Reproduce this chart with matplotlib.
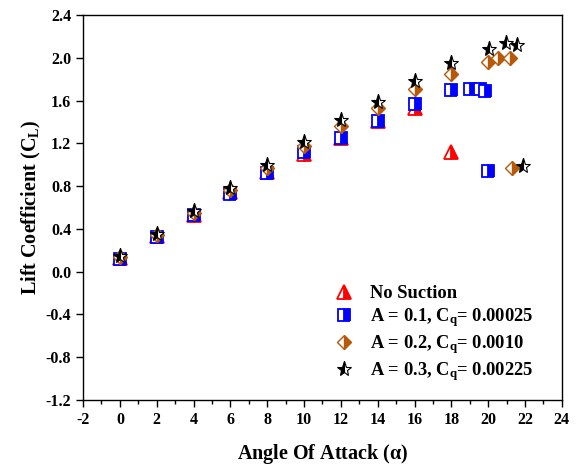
import matplotlib.pyplot as plt
import numpy as np

# Fuentes tipo Times en negrita
plt.rcParams['font.family'] = ['Liberation Serif', 'DejaVu Serif']
plt.rcParams['font.weight'] = 'bold'
plt.rcParams['axes.unicode_minus'] = False
plt.rcParams['mathtext.fontset'] = 'custom'
plt.rcParams['mathtext.rm'] = 'Liberation Serif:bold'
plt.rcParams['mathtext.it'] = 'Liberation Serif:bold'
plt.rcParams['mathtext.bf'] = 'Liberation Serif:bold'

# Datos
aoa_ns = [0, 2, 4, 6, 8, 10, 12, 14, 16, 18]
cl_ns = [0.13, 0.33, 0.53, 0.74, 0.93, 1.10, 1.25, 1.41, 1.53, 1.12]

aoa_a1 = [0, 2, 4, 6, 8, 10, 12, 14, 16, 18, 19, 19.55, 19.85, 20.0]
cl_a1 = [0.12, 0.32, 0.53, 0.73, 0.92, 1.12, 1.25, 1.41, 1.565, 1.70, 1.71, 1.71, 1.69, 0.94]

aoa_a2 = [0, 2, 4, 6, 8, 10, 12, 14, 16, 18, 20.0, 20.55, 21.2, 21.3]
cl_a2 = [0.14, 0.34, 0.55, 0.76, 0.97, 1.17, 1.36, 1.53, 1.705, 1.85, 1.96, 1.995, 2.0, 0.97]

aoa_a3 = [0, 2, 4, 6, 8, 10, 12, 14, 16, 18, 20.05, 20.95, 21.55, 21.9]
cl_a3 = [0.15, 0.35, 0.57, 0.78, 1.0, 1.21, 1.42, 1.59, 1.78, 1.95, 2.08, 2.14, 2.12, 0.99]

fig = plt.figure(figsize=(5.81, 4.67), dpi=100)
ax = fig.add_axes([0.143, 0.1435, 0.824, 0.8245])

ax.plot(aoa_ns, cl_ns, linestyle='none', marker='^', markersize=9.5,
        color='red', markerfacecoloralt='white', fillstyle='right',
        markeredgewidth=1.3, label='No Suction')
ax.plot(aoa_a1, cl_a1, linestyle='none', marker='s', markersize=8.5,
        color='blue', markerfacecoloralt='white', fillstyle='right',
        markeredgewidth=1.3, label=r'A = 0.1, C$_{\rm q}$= 0.00025')
ax.plot(aoa_a2, cl_a2, linestyle='none', marker='D', markersize=7.5,
        color='#b8590a', markerfacecoloralt='white', fillstyle='right',
        markeredgewidth=1.0, label=r'A = 0.2, C$_{\rm q}$= 0.0010')
ax.plot(aoa_a3, cl_a3, linestyle='none', marker='*', markersize=11,
        color='black', markerfacecoloralt='white', fillstyle='left',
        markeredgewidth=0.8, label=r'A = 0.3, C$_{\rm q}$= 0.00225')

ax.set_xlim(-2, 24)
ax.set_ylim(-1.2, 2.4)
ax.set_xticks(np.arange(-2, 25, 2))
ax.set_xticks(np.arange(-1, 24, 2), minor=True)
ax.set_yticks(np.arange(-1.2, 2.41, 0.4))
ax.set_yticklabels(['%.1f' % v for v in np.arange(-1.2, 2.41, 0.4)])
ax.tick_params(which='major', direction='out', length=5, width=1, labelsize=11.5)
ax.tick_params(which='minor', direction='out', length=3, width=1)

for s in ax.spines.values():
    s.set_linewidth(1)

ax.set_xlabel(r'Angle Of Attack ($\alpha$)', fontsize=14.5, fontweight='bold', labelpad=10)
ax.set_ylabel(r'Lift Coefficient (C$_{\rm L}$)', fontsize=14.5, fontweight='bold', labelpad=2)

ax.legend(loc='lower right', bbox_to_anchor=(0.967, 0.01), frameon=False,
          fontsize=13.3, handletextpad=0.4, labelspacing=0.22, borderpad=0.2)

fig.savefig('out.png', dpi=100)
